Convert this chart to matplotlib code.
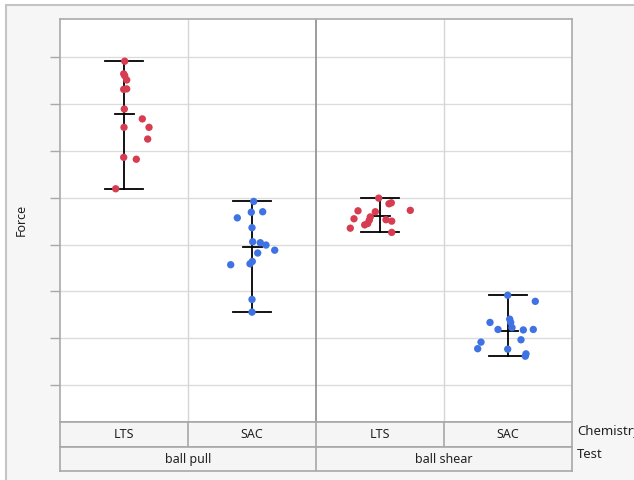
import matplotlib
matplotlib.use("Agg")
import matplotlib.pyplot as plt
from matplotlib.patches import Rectangle
import numpy as np

# --- Data: Force by Chemistry within Test ---
tests = ["ball pull", "ball shear"]
chemistry = ["LTS", "SAC", "LTS", "SAC"]

lts_pull = [79.1, 76.4, 76.0, 75.1, 73.1, 73.2, 68.9, 66.8, 65.0, 65.0, 62.5, 58.6, 58.2, 51.9]
lts_pull_jit = [0.7, -0.3, 0.7, 2.7, -0.3, 2.7, 0.3, 18.3, 0.0, 25.0, 23.7, -0.3, 12.3, -8.3]

sac_pull = [49.2, 46.9, 47.0, 45.7, 43.6, 40.6, 40.4, 39.9, 38.8, 38.2, 36.4, 35.9, 35.7, 28.3, 25.6]
sac_pull_jit = [1.7, -0.7, 10.7, -14.7, 0.0, 0.7, 8.3, 14.0, 22.7, 5.7, 0.3, -2.0, -21.3, 0.0, 0.0]

lts_shear = [49.9, 48.9, 48.7, 47.2, 47.3, 47.0, 45.5, 45.9, 45.2, 45.3, 45.0, 44.5, 44.2, 43.5, 42.6]
lts_shear_jit = [-1.3, 11.3, 9.0, -22.0, 30.3, -4.7, -26.0, -9.7, -10.7, 6.0, 11.7, -12.3, -15.3, -29.7, 11.7]

sac_shear = [29.2, 27.9, 23.4, 24.1, 23.4, 22.3, 21.9, 21.8, 21.9, 19.7, 19.2, 17.8, 17.7, 16.7, 16.2]
sac_shear_jit = [-0.3, 27.3, -18.0, 1.7, 2.7, 4.0, -10.0, 15.3, 25.3, 13.0, -27.0, -30.3, -0.3, 18.0, 17.3]

groups = [(lts_pull, lts_pull_jit), (sac_pull, sac_pull_jit),
          (lts_shear, lts_shear_jit), (sac_shear, sac_shear_jit)]

RED = "#d63d51"
BLUE = "#3f72e3"
colors = {"LTS": RED, "SAC": BLUE}
FS = 9

W, H = 634, 480
plt.rcParams["font.family"] = ["Noto Sans", "DejaVu Sans"]
fig = plt.figure(figsize=(W / 100, H / 100), dpi=100, facecolor="white")

# light gray report panel behind everything
fig.patches.append(Rectangle((5.5 / W, -0.05), 1.1, 1 - 4.5 / H + 0.05,
                             transform=fig.transFigure, facecolor="#f6f6f6",
                             edgecolor="#c4c4c4", lw=1.5, zorder=-10))

def px_axes(x0, y0, x1, y1):
    return fig.add_axes([x0 / W, 1 - y1 / H, (x1 - x0) / W, (y1 - y0) / H])

ax = px_axes(60, 19, 572, 422)
ax.set_facecolor("white")
ax.set_xlim(0, 4)
ax.set_ylim(2.17, 88.1)
ax.set_yticks(np.arange(10, 81, 10))
ax.set_yticklabels([])
ax.set_xticks([])
ax.tick_params(axis="y", length=7, color="#a8a8a8", width=1)
ax.grid(axis="y", color="#dcdcdc", lw=1)
ax.set_axisbelow(True)
for s in ax.spines.values():
    s.set_color("#aaaaaa")
    s.set_linewidth(1.2)
ax.axvline(1, color="#d6d6d6", lw=1, zorder=1)
ax.axvline(3, color="#d6d6d6", lw=1, zorder=1)
ax.axvline(2, color="#8c8c8c", lw=1.2, zorder=1)

px = 4 / 512.0  # data units per pixel in x
for i, (vals, jit) in enumerate(groups):
    c = i + 0.5
    v = np.array(vals)
    xs = c + np.array(jit) * px
    lo, hi, mean = v.min(), v.max(), v.mean()
    ax.plot([c, c], [lo, hi], color="black", lw=1.3, zorder=2)
    for y in (lo, hi):
        ax.plot([c - 19 * px, c + 19 * px], [y, y], color="black", lw=1.3, zorder=2)
    ax.plot([c - 9.5 * px, c + 9.5 * px], [mean, mean], color="black", lw=1.3, zorder=2)
    ax.scatter(xs, v, s=28, color=colors[chemistry[i]], edgecolors="none", zorder=3)

fig.text(21 / W, 1 - 220 / H, "Force", rotation=90, ha="center", va="center",
         fontsize=FS, color="#222222")

# nested category rows under the plot
chem_ax = px_axes(60, 422, 572, 447)
test_ax = px_axes(60, 447, 572, 471)
for a in (chem_ax, test_ax):
    a.set_facecolor("#f5f5f5")
    a.set_xlim(0, 4)
    a.set_ylim(0, 1)
    a.set_xticks([])
    a.set_yticks([])
    for s in a.spines.values():
        s.set_color("#a8a8a8")
        s.set_linewidth(1.2)
for xv in (1, 2, 3):
    chem_ax.axvline(xv, color="#a8a8a8", lw=1.2)
test_ax.axvline(2, color="#a8a8a8", lw=1.2)

for i, name in enumerate(chemistry):
    chem_ax.text(i + 0.5, 0.48, name, ha="center", va="center", fontsize=FS, color="#222222")
for i, name in enumerate(tests):
    test_ax.text(2 * i + 1, 0.48, name, ha="center", va="center", fontsize=FS, color="#222222")

fig.text(577 / W, 1 - 431 / H, "Chemistry", ha="left", va="center", fontsize=9.5, color="#222222")
fig.text(577 / W, 1 - 454 / H, "Test", ha="left", va="center", fontsize=9.5, color="#222222")

fig.savefig("out.png", dpi=100, facecolor="white")
